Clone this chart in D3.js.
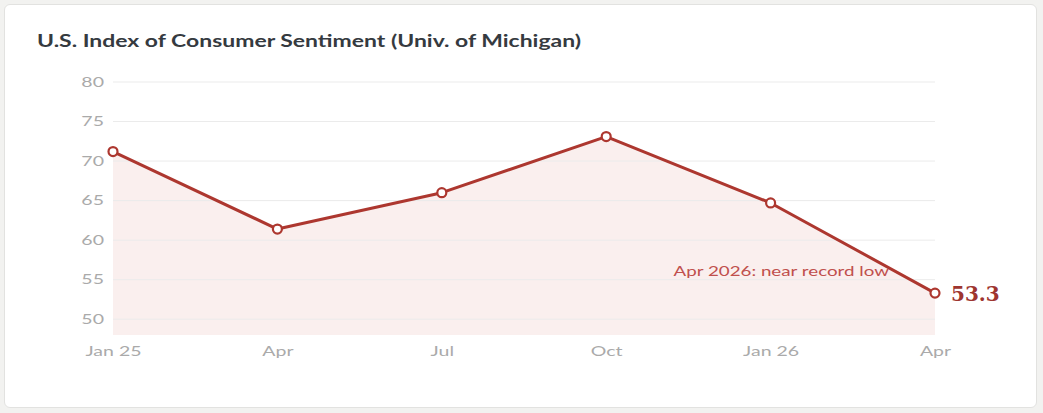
<!DOCTYPE html>
<html>
<head>
<meta charset="utf-8">
<script src="https://cdn.jsdelivr.net/npm/d3@7"></script>
<style>
  html, body { margin: 0; padding: 0; background: #f2f2f0; }
  body { width: 1043px; height: 413px; position: relative; font-family: Lato, "Open Sans", sans-serif; }
  .card {
    position: absolute; left: 4px; top: 4px; width: 1033px; height: 404px;
    background: #fff; border: 1px solid #e2e2e0; border-radius: 6px; box-sizing: border-box;
  }
  svg { position: absolute; left: 0; top: 0; }
</style>
</head>
<body>
<div class="card"></div>
<div id="chart"></div>
<script>
// Michigan consumer sentiment, quarterly readings
const months = ["Jan 25", "Apr", "Jul", "Oct", "Jan 26", "Apr"];
const values = [71.2, 61.4, 66.0, 73.1, 64.7, 53.3];
const yTicks = [50, 55, 60, 65, 70, 75, 80];

const width = 1043,
  height = 413;
const margin = { top: 82, right: 108, bottom: 78, left: 113 };

const svg = d3
  .select("#chart")
  .append("svg")
  .attr("width", width)
  .attr("height", height);

// the source text is drawn wide, so stretch glyphs horizontally
function widen(sel, k) {
  sel.each(function () {
    const w = this.getComputedTextLength();
    d3.select(this)
      .attr("textLength", w * k)
      .attr("lengthAdjust", "spacingAndGlyphs");
  });
}

const data = months.map((m, i) => ({ i: i, label: m, value: values[i] }));

const x = d3
  .scaleLinear()
  .domain([0, months.length - 1])
  .range([margin.left, width - margin.right]);
const y = d3
  .scaleLinear()
  .domain([48, 80])
  .range([height - margin.bottom, margin.top]);

// title
svg
  .append("text")
  .attr("x", 37)
  .attr("y", 47)
  .attr("font-size", 16.5)
  .attr("font-weight", 700)
  .attr("fill", "#353a40")
  .text("U.S. Index of Consumer Sentiment (Univ. of Michigan)")
  .call(widen, 1.39);

// area under the line
svg
  .append("path")
  .datum(data)
  .attr("fill", "#c0392b")
  .attr("fill-opacity", 0.08)
  .attr(
    "d",
    d3
      .area()
      .x((d) => x(d.i))
      .y0(y(48))
      .y1((d) => y(d.value))
  );

// gridlines
svg
  .append("g")
  .selectAll("line")
  .data(yTicks)
  .join("line")
  .attr("x1", x(0))
  .attr("x2", x(months.length - 1))
  .attr("y1", (d) => y(d))
  .attr("y2", (d) => y(d))
  .attr("stroke", "#ebebeb")
  .attr("stroke-width", 1);

// y axis
const yAxis = svg
  .append("g")
  .attr("transform", `translate(${margin.left - 9},0)`)
  .call(d3.axisLeft(y).tickValues(yTicks).tickSize(0).tickPadding(0));
yAxis.select(".domain").remove();
yAxis
  .selectAll("text")
  .attr("font-family", "Lato, sans-serif")
  .attr("font-size", 13)
  .attr("fill", "#aaa")
  .call(widen, 1.5);

// x axis
const xAxis = svg
  .append("g")
  .attr("transform", `translate(0,${height - margin.bottom + 12})`)
  .call(
    d3
      .axisBottom(x)
      .tickValues(d3.range(months.length))
      .tickFormat((i) => months[i])
      .tickSize(0)
      .tickPadding(0)
  );
xAxis.select(".domain").remove();
xAxis
  .selectAll("text")
  .attr("dy", "0.71em")
  .attr("font-family", "Lato, sans-serif")
  .attr("font-size", 13)
  .attr("fill", "#aaa")
  .call(widen, 1.5);

// line
svg
  .append("path")
  .datum(data)
  .attr("fill", "none")
  .attr("stroke", "#ad372f")
  .attr("stroke-width", 3)
  .attr("stroke-linejoin", "round")
  .attr(
    "d",
    d3
      .line()
      .x((d) => x(d.i))
      .y((d) => y(d.value))
  );

svg
  .append("g")
  .selectAll("circle")
  .data(data)
  .join("circle")
  .attr("cx", (d) => x(d.i))
  .attr("cy", (d) => y(d.value))
  .attr("r", 4.5)
  .attr("fill", "#fff")
  .attr("stroke", "#ad372f")
  .attr("stroke-width", 2.2);

// annotation + end label
const last = data[data.length - 1];
svg
  .append("text")
  .attr("x", x(last.i) - 46)
  .attr("y", y(last.value) - 17)
  .attr("text-anchor", "end")
  .attr("font-size", 12.5)
  .attr("fill", "#c0504d")
  .text("Apr 2026: near record low")
  .call(widen, 1.5);

svg
  .append("text")
  .attr("x", x(last.i) + 16)
  .attr("y", y(last.value) + 8)
  .attr("font-family", "'DejaVu Serif', serif")
  .attr("font-size", 20)
  .attr("font-weight", 700)
  .attr("fill", "#9e3530")
  .text(last.value.toFixed(1));
</script>
</body>
</html>
